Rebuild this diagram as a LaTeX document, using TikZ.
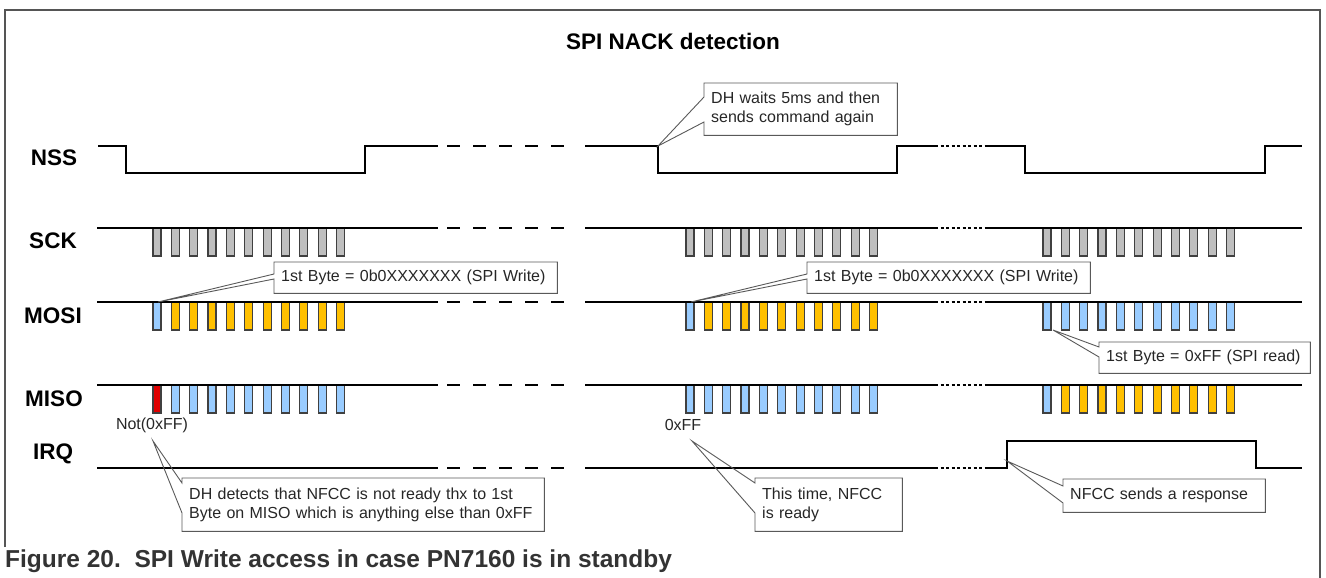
\documentclass[tikz,border=0pt]{standalone}
\usepackage{fontspec}
\setmainfont{Liberation Sans}
\usetikzlibrary{calc}

\definecolor{sckgray}{HTML}{BFBFBF}
\definecolor{bitblue}{HTML}{99CCFF}
\definecolor{bitorange}{HTML}{FFC000}
\definecolor{bitred}{HTML}{E00000}
\definecolor{framegray}{HTML}{555555}

\newcommand{\notefont}{\fontsize{16}{19}\selectfont}
\newcommand{\sigfont}{\fontsize{22.5}{26}\selectfont\bfseries}

\tikzset{
    sig/.style={line width=1.8pt, black},
    gapdash/.style={dash pattern=on 13pt off 13pt},
    gapdot/.style={dash pattern=on 3pt off 2.5pt, line width=1.4pt},
    pulse/.style={draw=black!75, line width=1.2pt},
    signame/.style={font=\sigfont},
    note/.style={anchor=north west, inner xsep=7pt, inner ysep=0pt, align=left, font=\notefont, text=black!85},
    notebox/.style={draw=black!65, line width=0.9pt},
}

\begin{document}
\begin{tikzpicture}[line cap=butt, line join=miter, x=1pt, y=-1pt]
    \useasboundingbox (0,0) rectangle (1326,578);

    % frame, title and caption
    \draw[framegray, line width=1.2pt] (5,547) -- (5,10) -- (1320,10) -- (1320,578);
    \node[font=\sigfont] (title) at (673,41) {SPI NACK detection};
    \node[font=\fontsize{24.5}{28}\selectfont\bfseries, text=black!80, anchor=west, inner sep=0pt] (caption) at (5,561)
        {Figure 20.\ \ SPI Write access in case PN7160 is in standby};

    % signal names
    \node[signame] (nss) at (54,158) {NSS};
    \node[signame] (sck) at (53,241) {SCK};
    \node[signame] (mosi) at (53,316) {MOSI};
    \node[signame] (miso) at (54,399) {MISO};
    \node[signame] (irq) at (53,454) {IRQ};

    % SCK bursts
    \foreach \x in {153,686,1043}
        \foreach \i in {0,...,10}
            \draw[pulse, fill=sckgray] ({\x+\i*18.35},228) rectangle +(8,28);

    % MOSI bits
    \foreach \x in {153,686} {
        \draw[pulse, fill=bitblue] (\x,302) rectangle +(8,28);
        \foreach \i in {1,...,10}
            \draw[pulse, fill=bitorange] ({\x+\i*18.35},302) rectangle +(8,28);
    }
    \foreach \i in {0,...,10}
        \draw[pulse, fill=bitblue] ({1043+\i*18.35},302) rectangle +(8,28);

    % MISO bits
    \draw[pulse, fill=bitred] (153,385) rectangle +(8,28);
    \foreach \i in {1,...,10}
        \draw[pulse, fill=bitblue] ({153+\i*18.35},385) rectangle +(8,28);
    \foreach \i in {0,...,10}
        \draw[pulse, fill=bitblue] ({686+\i*18.35},385) rectangle +(8,28);
    \draw[pulse, fill=bitblue] (1043,385) rectangle +(8,28);
    \foreach \i in {1,...,10}
        \draw[pulse, fill=bitorange] ({1043+\i*18.35},385) rectangle +(8,28);

    % NSS
    \draw[sig] (98,146) -- (126,146) -- (126,173) -- (365,173) -- (365,146) -- (438,146);
    \draw[sig, gapdash] (447,146) -- (577,146);
    \draw[sig] (585,146) -- (658,146) -- (658,173) -- (897,173) -- (897,146) -- (935,146);
    \draw[sig, gapdot] (935,146) -- (987,146);
    \draw[sig] (987,146) -- (1025,146) -- (1025,173) -- (1265,173) -- (1265,146) -- (1302,146);

    % SCK, MOSI, MISO
    \foreach \y in {228,302,385} {
        \draw[sig] (97,\y) -- (438,\y);
        \draw[sig, gapdash] (447,\y) -- (577,\y);
        \draw[sig] (585,\y) -- (935,\y);
        \draw[sig, gapdot] (935,\y) -- (987,\y);
        \draw[sig] (987,\y) -- (1302,\y);
    }

    % IRQ
    \draw[sig] (97,468) -- (438,468);
    \draw[sig, gapdash] (447,468) -- (577,468);
    \draw[sig] (585,468) -- (935,468);
    \draw[sig, gapdot] (935,468) -- (987,468);
    \draw[sig] (987,468) -- (1007,468) -- (1007,441) -- (1256,441) -- (1256,468) -- (1302,468);

    % byte values on MISO
    \node[font=\notefont, text=black!85] (notff) at (152,425) {Not(0xFF)};
    \node[font=\notefont, text=black!85] (isff) at (683,425) {0xFF};

    % callout tips
    \coordinate (waitpt) at (658,146);
    \coordinate (write1pt) at (158,302);
    \coordinate (write2pt) at (691,302);
    \coordinate (readpt) at (1053,330);
    \coordinate (nackpt) at (153,441);
    \coordinate (readypt) at (692,441);
    \coordinate (resppt) at (1007,461);

    % callout texts
    \node[note, text width=179pt, minimum height=52pt] (waitnote) at (704,83) {DH waits 5ms and then\\sends command again};
    \node[note, text width=269pt, minimum height=31pt] (write1) at (274,262) {1st Byte = 0b0XXXXXXX (SPI Write)};
    \node[note, text width=269pt, minimum height=31pt] (write2) at (807,262) {1st Byte = 0b0XXXXXXX (SPI Write)};
    \node[note, text width=197pt, minimum height=31pt] (readnote) at (1099,342) {1st Byte = 0xFF (SPI read)};
    \node[note, text width=348pt, minimum height=53pt] (nacknote) at (182,478) {DH detects that NFCC is not ready thx to 1st\\Byte on MISO which is anything else than 0xFF};
    \node[note, text width=133pt, minimum height=53pt] (readynote) at (755,478) {This time, NFCC\\is ready};
    \node[note, text width=188pt, minimum height=33pt] (respnote) at (1063,479) {NFCC sends a response};

    % callout outlines
    \draw[notebox] (waitpt) -- ([yshift=-14pt]waitnote.north west) -- (waitnote.north west) -- (waitnote.north east)
        -- (waitnote.south east) -- (waitnote.south west) -- ([yshift=-39pt]waitnote.north west) -- cycle;
    \draw[notebox] (write1pt) -- ([yshift=-12pt]write1.north west) -- (write1.north west) -- (write1.north east)
        -- (write1.south east) -- (write1.south west) -- ([yshift=-17pt]write1.north west) -- cycle;
    \draw[notebox] (write2pt) -- ([yshift=-12pt]write2.north west) -- (write2.north west) -- (write2.north east)
        -- (write2.south east) -- (write2.south west) -- ([yshift=-17pt]write2.north west) -- cycle;
    \draw[notebox] (readpt) -- ([yshift=-5pt]readnote.north west) -- (readnote.north west) -- (readnote.north east)
        -- (readnote.south east) -- (readnote.south west) -- ([yshift=-15pt]readnote.north west) -- cycle;
    \draw[notebox] (nackpt) -- ([yshift=-5pt]nacknote.north west) -- (nacknote.north west) -- (nacknote.north east)
        -- (nacknote.south east) -- (nacknote.south west) -- ([yshift=-35pt]nacknote.north west) -- cycle;
    \draw[notebox] (readypt) -- ([yshift=-5pt]readynote.north west) -- (readynote.north west) -- (readynote.north east)
        -- (readynote.south east) -- (readynote.south west) -- ([yshift=-35pt]readynote.north west) -- cycle;
    \draw[notebox] (resppt) -- ([yshift=-7pt]respnote.north west) -- (respnote.north west) -- (respnote.north east)
        -- (respnote.south east) -- (respnote.south west) -- ([yshift=-24pt]respnote.north west) -- cycle;
\end{tikzpicture}
\end{document}
